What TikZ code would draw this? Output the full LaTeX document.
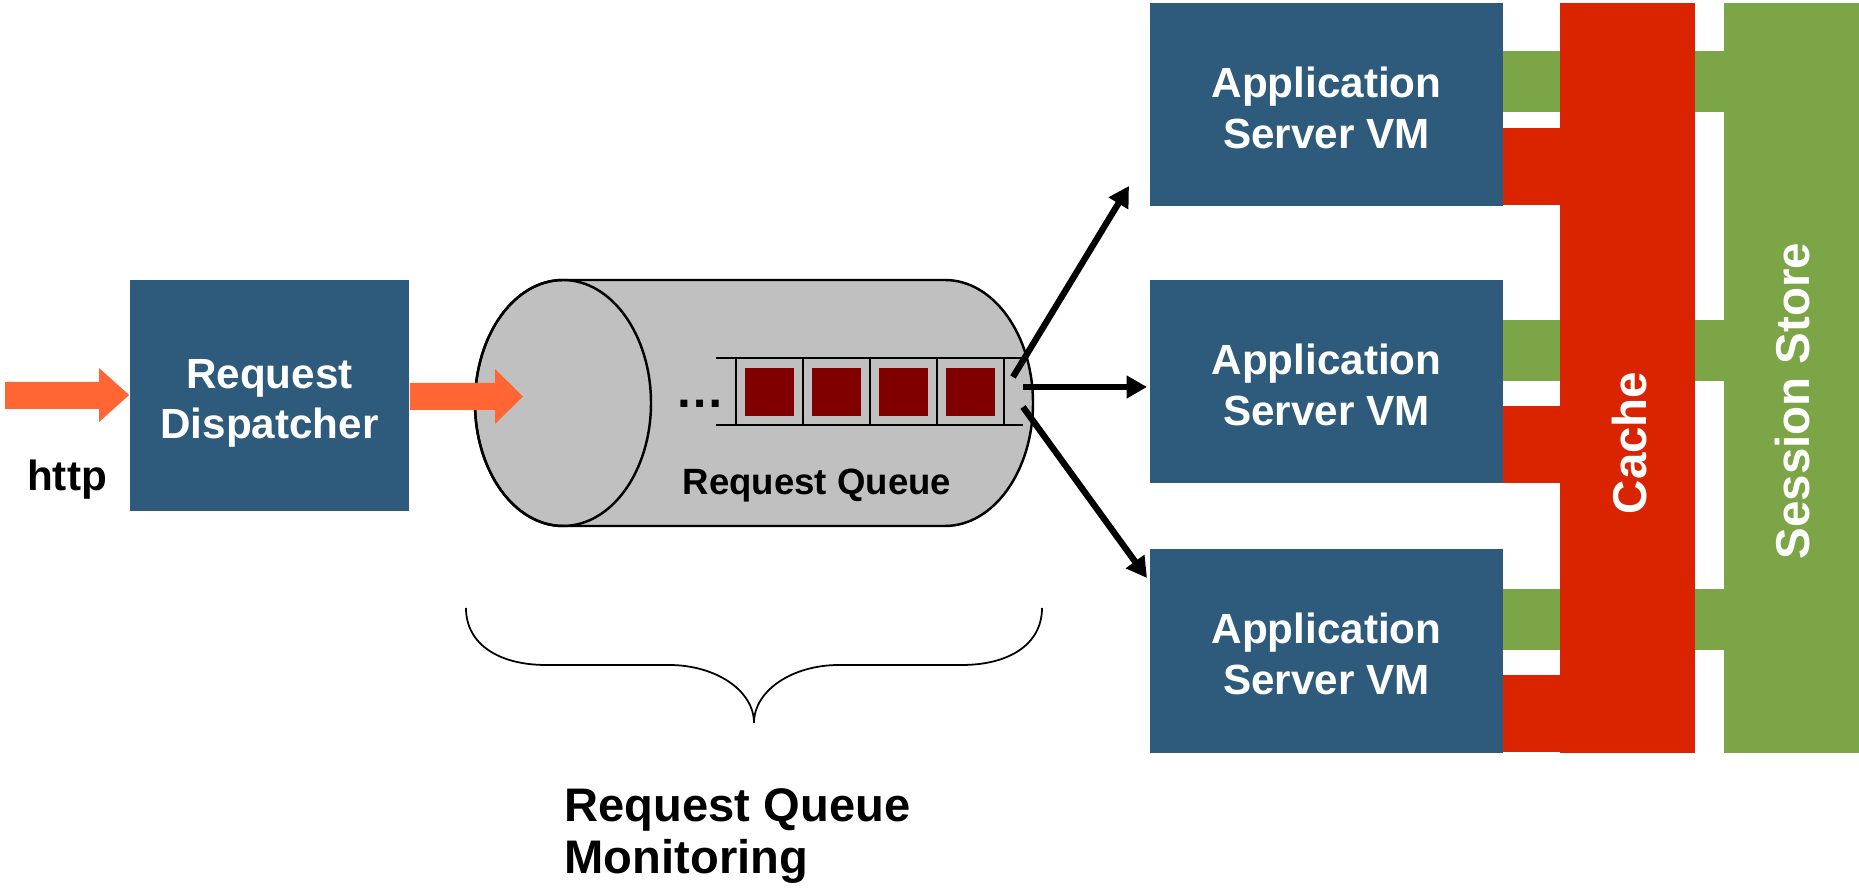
\documentclass[tikz,border=0pt]{standalone}
\usepackage{fontspec}
\setmainfont{Liberation Sans}
\usetikzlibrary{arrows.meta}

\definecolor{vmblue}{HTML}{2E5B7C}
\definecolor{cachered}{HTML}{DA2400}
\definecolor{storegreen}{HTML}{7CA548}
\definecolor{flow}{HTML}{FF6633}
\definecolor{item}{HTML}{800000}
\definecolor{tube}{HTML}{C0C0C0}

\begin{document}
\begin{tikzpicture}[x=0.01cm, y=-0.01cm,
  bluebox/.style={fill=vmblue, text=white, inner sep=0pt, align=center,
    text depth=0pt, font=\bfseries\fontsize{12}{14.4}\selectfont},
  appbox/.style={bluebox, minimum width=3.53cm, minimum height=2.03cm},
  column/.style={inner sep=0pt, minimum width=1.35cm, minimum height=7.5cm},
  collabel/.style={rotate=90, text=white, inner sep=0pt,
    font=\bfseries\fontsize{13.5}{16}\selectfont},
  slot/.style={fill=item, inner sep=0pt, minimum size=0.48cm},
  route/.style={line width=1.8pt, -{Triangle[length=5.8pt,width=6.2pt]}},
  rail/.style={line width=0.5pt},
  tubeline/.style={draw=black, line width=0.7pt}]

\useasboundingbox (0,0) rectangle (1859,889);

% incoming request arrow and dispatcher
\node[bluebox, minimum width=2.79cm, minimum height=2.31cm] (disp) at (269.5,395.5) {};
\node[bluebox, fill=none] (disptext) at (269.5,399) {Request\\Dispatcher};
\fill[flow] (5,382) -- (99,382) -- (99,368) -- (disp.west |- 0,395) -- (99,422) -- (99,409) -- (5,409) -- cycle;
\node[anchor=base, inner sep=0pt, font=\bfseries\fontsize{12}{14}\selectfont] (http) at (67,491) {http};

% request queue cylinder
\path[fill=tube, tubeline] (563,280) -- (945,280)
  arc[start angle=-90, end angle=90, x radius=88, y radius=123]
  -- (563,526)
  arc[start angle=90, end angle=270, x radius=88, y radius=123] -- cycle;
\draw[tubeline] (563,403) ellipse [x radius=88, y radius=123];

% dispatcher into the queue
\fill[flow] (disp.east |- 0,383) -- (495,383) -- (495,369) -- (523,396.5) -- (495,424) -- (495,410) -- (disp.east |- 0,410) -- cycle;

% queued requests
\draw[rail] (716,358) -- (1023,358);
\draw[rail] (716,425) -- (1023,425);
\foreach \x in {736,803,870,937,1004} \draw[rail] (\x,358) -- (\x,425);
\node[slot] (s1) at (769.5,392) {};
\node[slot] (s2) at (836.5,392) {};
\node[slot] (s3) at (903.5,392) {};
\node[slot] (s4) at (970.5,392) {};
\node[anchor=base, inner sep=0pt, font=\bfseries\fontsize{14}{16}\selectfont] (dots) at (700,408) {…};
\node[anchor=base, inner sep=0pt, font=\bfseries\fontsize{10.4}{12}\selectfont] (qlabel) at (817,495) {Request Queue};

% application servers
\node[appbox] (app1) at (1326.5,104.5) {};
\node[appbox] (app2) at (1326.5,381.5) {};
\node[appbox] (app3) at (1326.5,651) {};
\foreach \n/\y in {1/108,2/385,3/654}
  \node[bluebox, fill=none] (app\n text) at (1326.5,\y) {Application\\Server VM};

% links to session store and cache
\fill[storegreen] (1503,51) rectangle (1724,112);
\fill[storegreen] (1503,320) rectangle (1724,381);
\fill[storegreen] (1503,589) rectangle (1724,650);
\fill[cachered] (1503,128) rectangle (1560,205);
\fill[cachered] (1503,406) rectangle (1560,483);
\fill[cachered] (1503,675) rectangle (1560,752);

\node[column, fill=cachered] (cache) at (1627.5,378) {};
\node[column, fill=storegreen] (store) at (1791.5,378) {};
\node[collabel] (cachelabel) at (1630,443) {Cache};
\node[collabel] (storelabel) at (1793,401) {Session Store};

% dispatch from the queue head
\coordinate (qa) at (1013,377);
\coordinate (qb) at (1023,387);
\coordinate (qc) at (1023,407);
\coordinate (ta) at (1129,186);
\coordinate (tb) at (1147,387);
\coordinate (tc) at (1147,578);
\draw[route] (qa) -- (ta);
\draw[route] (qb) -- (tb);
\draw[route] (qc) -- (tc);

% monitoring brace
\draw[line width=0.5pt] (466,608) .. controls (466,645) and (500,665) .. (546,665)
  -- (669,665) .. controls (715,665) and (754,690) .. (754,723);
\draw[line width=0.5pt] (1042,608) .. controls (1042,645) and (1008,665) .. (962,665)
  -- (839,665) .. controls (793,665) and (754,690) .. (754,723);
\node[anchor=west, align=left, inner sep=0pt, font=\bfseries\fontsize{13.4}{14.8}\selectfont] (mon) at (564,836) {Request Queue\\Monitoring};

\end{tikzpicture}
\end{document}
